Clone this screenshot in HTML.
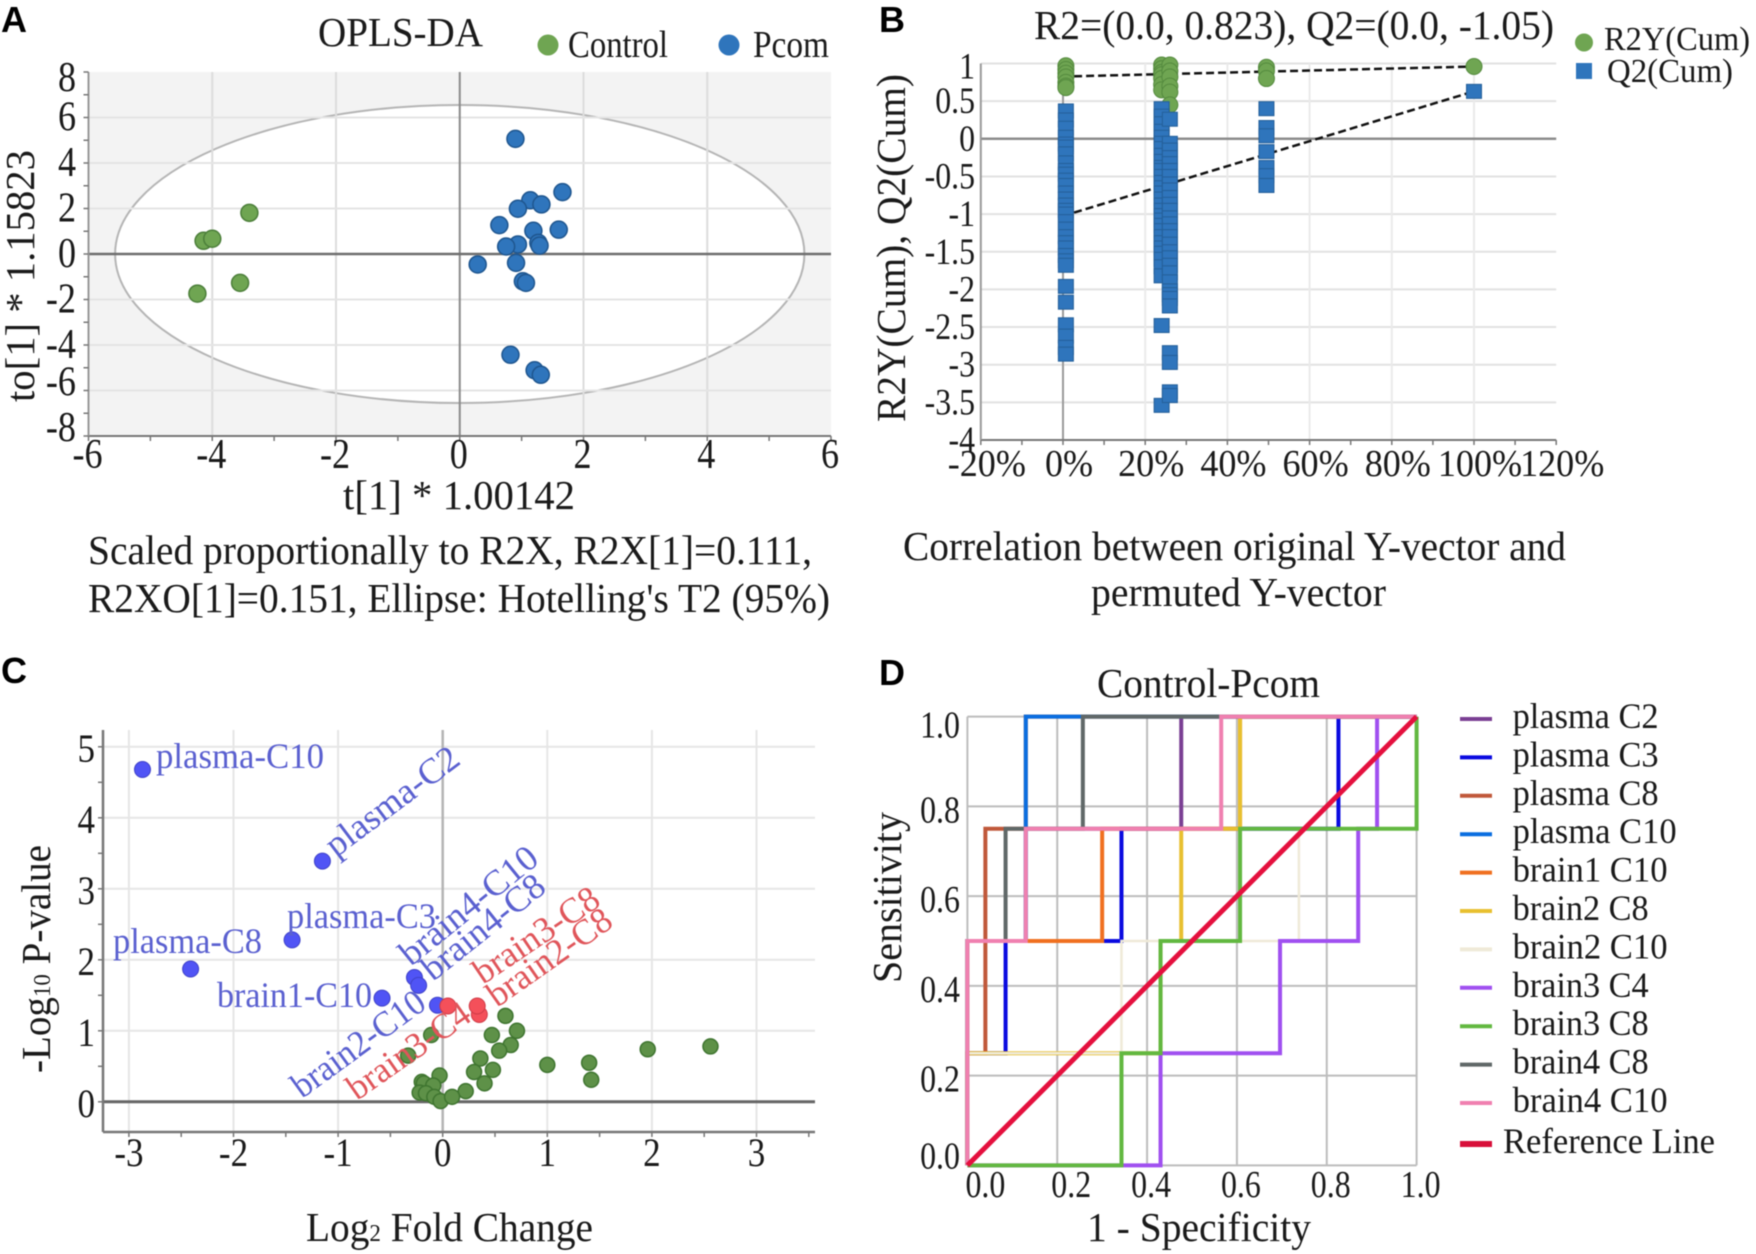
<!DOCTYPE html>
<html lang="en">
<head>
<meta charset="utf-8">
<title>OPLS-DA, permutation, volcano and ROC panels</title>
<style>
html,body{margin:0;padding:0;background:#fff;}
svg{display:block;filter:blur(0.5px);}
text{font-family:"Liberation Serif",serif;fill:#1a1a1a;}
.panel-letter{font-family:"Liberation Sans",sans-serif;font-weight:bold;font-size:36px;fill:#000;}
.t36{font-size:41px;}
.t34{font-size:38px;}
.t32{font-size:36px;}
.t30{font-size:34px;}
.vb{fill:#5a60d0;font-size:36px;}
.vr{fill:#e0555a;font-size:36px;}
</style>
</head>
<body>
<svg id="figure" xmlns="http://www.w3.org/2000/svg" width="1756" height="1254" viewBox="0 0 1756 1254">
  <rect x="0" y="0" width="1756" height="1254" fill="#fff"/>

  <g id="panel-a"></g>
  <g id="panel-b"></g>
  <g id="panel-c"></g>
  <g id="panel-d"></g>

  <!-- Panel A text -->
  <text class="panel-letter" x="1" y="32">A</text>
  <text class="t36" x="318" y="46" textLength="165" lengthAdjust="spacingAndGlyphs">OPLS-DA</text>
  <text class="t34" x="568" y="57" textLength="100" lengthAdjust="spacingAndGlyphs">Control</text>
  <text class="t34" x="753" y="57" textLength="76" lengthAdjust="spacingAndGlyphs">Pcom</text>
  <text class="t36" x="343" y="509" textLength="232" lengthAdjust="spacingAndGlyphs">t[1] * 1.00142</text>
  <text class="t36" x="34" y="402" transform="rotate(-90 34 402)" textLength="252" lengthAdjust="spacingAndGlyphs">to[1] * 1.15823</text>
  <text class="t36" x="88" y="564" textLength="724" lengthAdjust="spacingAndGlyphs">Scaled proportionally to R2X, R2X[1]=0.111,</text>
  <text class="t36" x="88" y="612" textLength="742" lengthAdjust="spacingAndGlyphs">R2XO[1]=0.151, Ellipse: Hotelling's T2 (95%)</text>

  <!-- Panel B text -->
  <text class="panel-letter" x="879" y="32">B</text>
  <text class="t36" x="1034" y="39" textLength="520" lengthAdjust="spacingAndGlyphs">R2=(0.0, 0.823), Q2=(0.0, -1.05)</text>
  <text class="t30" x="1604" y="50" textLength="146" lengthAdjust="spacingAndGlyphs">R2Y(Cum)</text>
  <text class="t30" x="1607" y="82" textLength="126" lengthAdjust="spacingAndGlyphs">Q2(Cum)</text>
  <text class="t36" x="905" y="422" transform="rotate(-90 905 422)" textLength="348" lengthAdjust="spacingAndGlyphs">R2Y(Cum), Q2(Cum)</text>
  <text class="t36" x="903" y="560" textLength="663" lengthAdjust="spacingAndGlyphs">Correlation between original Y-vector and</text>
  <text class="t36" x="1091" y="606" textLength="295" lengthAdjust="spacingAndGlyphs">permuted Y-vector</text>

  <!-- Panel C text -->
  <text class="panel-letter" x="1" y="683">C</text>
  <text class="t36" x="306" y="1241" textLength="287" lengthAdjust="spacingAndGlyphs">Log<tspan font-size="24">2</tspan> Fold Change</text>
  <text class="t36" x="50" y="1073" transform="rotate(-90 50 1073)" textLength="228" lengthAdjust="spacingAndGlyphs">-Log<tspan font-size="24">10</tspan> P-value</text>
  <g id="panel-c-labels">
    <text class="vb" x="156" y="768" textLength="168" lengthAdjust="spacingAndGlyphs">plasma-C10</text>
    <text class="vb" x="336" y="858" transform="rotate(-37 336 858)" textLength="158" lengthAdjust="spacingAndGlyphs">plasma-C2</text>
    <text class="vb" x="287" y="928" textLength="149" lengthAdjust="spacingAndGlyphs">plasma-C3</text>
    <text class="vb" x="113" y="953" textLength="149" lengthAdjust="spacingAndGlyphs">plasma-C8</text>
    <text class="vb" x="217" y="1007" textLength="155" lengthAdjust="spacingAndGlyphs">brain1-C10</text>
    <text class="vb" x="302" y="1099" transform="rotate(-36 302 1099)" textLength="156" lengthAdjust="spacingAndGlyphs">brain2-C10</text>
    <text class="vr" x="357" y="1101" transform="rotate(-35 357 1101)" textLength="142" lengthAdjust="spacingAndGlyphs">brain3-C4</text>
    <text class="vb" x="411" y="967" transform="rotate(-39 411 967)" textLength="167" lengthAdjust="spacingAndGlyphs">brain4-C10</text>
    <text class="vb" x="433" y="982" transform="rotate(-38.6 433 982)" textLength="147" lengthAdjust="spacingAndGlyphs">brain4-C8</text>
    <text class="vr" x="483" y="985" transform="rotate(-34 483 985)" textLength="144" lengthAdjust="spacingAndGlyphs">brain3-C8</text>
    <text class="vr" x="497" y="1008" transform="rotate(-35 497 1008)" textLength="144" lengthAdjust="spacingAndGlyphs">brain2-C8</text>
  </g>

  <!-- Panel D text -->
  <text class="panel-letter" x="879" y="685">D</text>
  <text class="t36" x="1097" y="697" textLength="223" lengthAdjust="spacingAndGlyphs">Control-Pcom</text>
  <text class="t36" x="1087" y="1241" textLength="224" lengthAdjust="spacingAndGlyphs">1 - Specificity</text>
  <text class="t36" x="901" y="983" transform="rotate(-90 901 983)" textLength="171" lengthAdjust="spacingAndGlyphs">Sensitivity</text>
</svg>

<script>
/* ---------- Panel A data ---------- */
const aXTicks = [-6, -4, -2, 0, 2, 4, 6];
const aYTicks = [8, 6, 4, 2, 0, -2, -4, -6, -8];
const controlT = [-3.40, -4.14, -4.00, -3.55, -4.24];
const controlTo = [1.81, 0.58, 0.67, -1.27, -1.74];
const pcomT = [0.90, 1.66, 1.14, 1.32, 0.94, 0.64, 1.19, 1.60, 0.94, 0.75, 1.27, 1.29, 0.29, 0.91, 1.02, 1.07, 0.82, 1.21, 1.31];
const pcomTo = [5.06, 2.72, 2.36, 2.18, 1.99, 1.27, 1.02, 1.07, 0.42, 0.33, 0.49, 0.37, -0.46, -0.39, -1.20, -1.27, -4.43, -5.11, -5.31];
const ellipseSemiT = 5.57;
const ellipseSemiTo = 6.55;

/* ---------- Panel B data ---------- */
const bXTicks = [-20, 0, 20, 40, 60, 80, 100, 120];
const bYTicks = [1, 0.5, 0, -0.5, -1, -1.5, -2, -2.5, -3, -3.5, -4];
const q2Col0 = [0.37, 0.25, 0.14, 0.02, -0.07, -0.11, -0.2, -0.32, -0.42, -0.47, -0.55, -0.62, -0.72, -0.8, -0.88, -0.95, -1.0, -1.1, -1.2, -1.3, -1.38, -1.45, -1.55, -1.62, -1.68, -1.96, -2.17, -2.47, -2.62, -2.77, -2.86];
const q2Col24 = [0.4, 0.3, 0.2, 0.1, 0.02, -0.06, -0.13, -0.22, -0.3, -0.38, -0.42, -0.5, -0.58, -0.65, -0.72, -0.8, -0.88, -0.95, -1.02, -1.08, -1.15, -1.22, -1.3, -1.38, -1.45, -1.52, -1.6, -1.7, -1.82, -2.48, -3.54];
const q2Col26 = [0.26, -0.06, -0.15, -0.25, -0.33, -0.42, -0.5, -0.6, -0.68, -0.78, -0.87, -0.95, -1.05, -1.13, -1.22, -1.3, -1.4, -1.5, -1.58, -1.68, -1.78, -1.9, -2.02, -2.07, -2.12, -2.22, -2.84, -2.97, -3.36, -3.41];
const q2Col50 = [0.4, 0.15, 0.04, -0.17, -0.38, -0.49, -0.62];
const q2Col100 = [0.63];
const r2Col0 = [0.97, 0.92, 0.87, 0.82, 0.75, 0.70, 0.68];
const r2Col24 = [0.98, 0.93, 0.88, 0.85, 0.8, 0.72, 0.65];
const r2Col26 = [0.98, 0.9, 0.82, 0.7, 0.62, 0.45];
const r2Col50 = [0.95, 0.9, 0.8];
const r2Col100 = [0.96];
const permLevels = [0.7, 24, 26, 49.5, 100];
const r2FitX = [2.7, 100];
const r2FitY = [0.83, 0.96];
const q2FitX = [2.7, 100];
const q2FitY = [-0.98, 0.63];

/* ---------- Panel C data ---------- */
const cXTicks = [-3, -2, -1, 0, 1, 2, 3];
const cYTicks = [5, 4, 3, 2, 1, 0];
const upFc = [-2.87, -1.15, -1.44, -2.41, -0.58, -0.27, -0.23, -0.05];
const upP = [4.68, 3.39, 2.28, 1.87, 1.46, 1.75, 1.64, 1.36];
const downFc = [0.05, 0.33, 0.35];
const downP = [1.35, 1.35, 1.23];
const nsFc = [0.60, 0.71, 0.47, -0.11, 0.65, 0.54, -0.33, 0.36, 0.48, 0.30, -0.03, 0.40, -0.20, -0.18, 0.22, -0.09, -0.22, -0.16, -0.08, -0.02, 0.09, 1.0, 1.40, 1.42, 1.96, 2.56];
const nsP = [1.21, 1.0, 0.94, 0.94, 0.80, 0.72, 0.65, 0.61, 0.45, 0.42, 0.37, 0.26, 0.28, 0.26, 0.15, 0.23, 0.13, 0.12, 0.07, 0.01, 0.07, 0.52, 0.55, 0.31, 0.74, 0.78];

/* ---------- Panel D data ---------- */
const dTicks = [0, 0.2, 0.4, 0.6, 0.8, 1];
const rocNames = ['plasma C2', 'plasma C3', 'plasma C8', 'plasma C10', 'brain1 C10', 'brain2 C8', 'brain2 C10', 'brain3 C4', 'brain3 C8', 'brain4 C8', 'brain4 C10'];
const rocColors = ['#7a3f93', '#0a0ae0', '#c0583a', '#0a6ee0', '#f07020', '#e8c030', '#efead8', '#a050f0', '#62b840', '#606868', '#f080b0'];
const fprPlasmaC2 = [0, 0, 0.13, 0.13, 0.476, 0.476, 1];
const tprPlasmaC2 = [0, 0.5, 0.5, 0.75, 0.75, 1, 1];
const fprPlasmaC3 = [0, 0, 0.085, 0.085, 0.343, 0.343, 0.826, 0.826, 1];
const tprPlasmaC3 = [0, 0.25, 0.25, 0.5, 0.5, 0.75, 0.75, 1, 1];
const fprPlasmaC8 = [0, 0, 0.04, 0.04, 0.13, 0.13, 1];
const tprPlasmaC8 = [0, 0.25, 0.25, 0.75, 0.75, 1, 1];
const fprPlasmaC10 = [0, 0, 0.13, 0.13, 1];
const tprPlasmaC10 = [0, 0.5, 0.5, 1, 1];
const fprBrain1C10 = [0, 0, 0.3, 0.3, 0.607, 0.607, 1];
const tprBrain1C10 = [0, 0.5, 0.5, 0.75, 0.75, 1, 1];
const fprBrain2C8 = [0, 0, 0.43, 0.43, 0.476, 0.476, 0.607, 0.607, 1];
const tprBrain2C8 = [0, 0.25, 0.25, 0.5, 0.5, 0.75, 0.75, 1, 1];
const fprBrain2C10 = [0, 0, 0.343, 0.343, 0.738, 0.738, 1, 1];
const tprBrain2C10 = [0, 0.25, 0.25, 0.5, 0.5, 0.75, 0.75, 1];
const fprBrain3C4 = [0, 0.43, 0.43, 0.696, 0.696, 0.87, 0.87, 0.912, 0.912, 1];
const tprBrain3C4 = [0, 0, 0.25, 0.25, 0.5, 0.5, 0.75, 0.75, 1, 1];
const fprBrain3C8 = [0, 0.343, 0.343, 0.43, 0.43, 0.607, 0.607, 1, 1];
const tprBrain3C8 = [0, 0, 0.25, 0.25, 0.5, 0.5, 0.75, 0.75, 1];
const fprBrain4C8 = [0, 0, 0.085, 0.085, 0.257, 0.257, 1];
const tprBrain4C8 = [0, 0.5, 0.5, 0.75, 0.75, 1, 1];
const fprBrain4C10 = [0, 0, 0.13, 0.13, 0.565, 0.565, 1];
const tprBrain4C10 = [0, 0.5, 0.5, 0.75, 0.75, 1, 1];
const rocFpr = [fprPlasmaC2, fprPlasmaC3, fprPlasmaC8, fprPlasmaC10, fprBrain1C10, fprBrain2C8, fprBrain2C10, fprBrain3C4, fprBrain3C8, fprBrain4C8, fprBrain4C10];
const rocTpr = [tprPlasmaC2, tprPlasmaC3, tprPlasmaC8, tprPlasmaC10, tprBrain1C10, tprBrain2C8, tprBrain2C10, tprBrain3C4, tprBrain3C8, tprBrain4C8, tprBrain4C10];

/* ---------- helpers ---------- */
const NS = 'http://www.w3.org/2000/svg';
function mk(parent, tag, attrs, content) {
  const el = document.createElementNS(NS, tag);
  for (const k in attrs) el.setAttribute(k, attrs[k]);
  if (content !== undefined) el.textContent = content;
  parent.appendChild(el);
  return el;
}
function linear(d0, d1, r0, r1) {
  return v => r0 + (v - d0) * (r1 - r0) / (d1 - d0);
}
function range(start, stop, step) {
  const out = [];
  for (let i = 0; start + i * step <= stop + 1e-9; i++) out.push(start + i * step);
  return out;
}
function line(parent, x1, y1, x2, y2, stroke, width) {
  return mk(parent, 'line', {x1, y1, x2, y2, stroke, 'stroke-width': width});
}
/* tall, horizontally condensed numerals, as in the reference */
function squeeze(el, size, factor) {
  let em = 0;
  for (const ch of el.textContent) em += ch === '-' ? 0.333 : ch === '.' ? 0.25 : ch === '%' ? 0.833 : 0.5;
  el.setAttribute('textLength', em * size * factor);
  el.setAttribute('lengthAdjust', 'spacingAndGlyphs');
}

/* ---------- Panel A ---------- */
(function () {
  const g = document.getElementById('panel-a');
  const x = linear(-6, 6, 88.5, 831);
  const y = linear(8, -8, 72, 436);
  const bg = mk(g, 'rect', {x: x(-6), y: y(8), width: x(6) - x(-6), height: y(-8) - y(8), fill: '#f3f3f3'});
  
  
  const ell = mk(g, 'ellipse', {cx: x(0), cy: y(0), rx: x(ellipseSemiT) - x(0), ry: y(0) - y(ellipseSemiTo), fill: '#fff', stroke: '#b5b5b5', 'stroke-width': 2});
  
  
  aXTicks.forEach(v => {
    if (v === 0 || Math.abs(v) === 6) return;
    const l = line(g, x(v), y(8), x(v), y(-8), '#dcdcdc', 2);
    
    
  });
  aYTicks.forEach(v => {
    if (v === 0 || Math.abs(v) === 8) return;
    const l = line(g, x(-6), y(v), x(6), y(v), '#e4e4e4', 2);
    
    
  });
  const z1 = line(g, x(0), y(8), x(0), y(-8), '#8a8a8a', 2);
  
  
  const z2 = line(g, x(-6), y(0), x(6), y(0), '#6e6e6e', 2.5);
  
  
  const ax = line(g, x(-6), y(-8), x(6), y(-8), '#777', 2);
  
  
  const ay = line(g, x(-6), y(8), x(-6), y(-8), '#999', 2);
  
  
  range(-6, 6, 1).forEach(v => {
    const t = line(g, x(v), y(-8), x(v), y(-8) + 5, '#777', 1.5);
    
    
  });
  range(-8, 8, 1).forEach(v => {
    const t = line(g, x(-6) - 5, y(v), x(-6), y(v), '#777', 1.5);
    
    
  });
  aXTicks.forEach(v => {
    const t = mk(g, 'text', {x: x(v) - 1, y: 468, 'text-anchor': 'middle', 'font-size': 42}, String(v));
    squeeze(t, 42, 0.86);
    
    
  });
  aYTicks.forEach(v => {
    const nudge = v === 8 ? 6 : (v <= -6 ? -8 : 0);
    const t = mk(g, 'text', {x: 76, y: y(v) + nudge + 13, 'text-anchor': 'end', 'font-size': 42}, String(v));
    squeeze(t, 42, 0.86);
    
    
  });
  controlT.forEach((v, i) => {
    const c = mk(g, 'circle', {cx: x(v), cy: y(controlTo[i]), r: 8.5, fill: '#6fa552', stroke: '#4c7f3a', 'stroke-width': 1.5});
    
    
  });
  pcomT.forEach((v, i) => {
    const c = mk(g, 'circle', {cx: x(v), cy: y(pcomTo[i]), r: 8.5, fill: '#2f75bc', stroke: '#1f568f', 'stroke-width': 1.5});
    
    
  });
  const lc = mk(g, 'circle', {cx: 548, cy: 45, r: 10.5, fill: '#6fa552'});
  
  
  const lp = mk(g, 'circle', {cx: 729, cy: 45, r: 10.5, fill: '#2f75bc'});
  
  
})();

/* ---------- Panel B ---------- */
(function () {
  const g = document.getElementById('panel-b');
  const x = linear(0, 100, 1063, 1474);
  const y = linear(0, -4, 138.8, 440);
  bYTicks.forEach(v => {
    if (v === 0 || v === -4) return;
    const l = line(g, x(-20), y(v), x(120), y(v), '#e2e2e2', 2);
    
    
  });
  bXTicks.forEach(v => {
    if (v === 0 || v === -20 || v === 120) return;
    const l = line(g, x(v), y(1), x(v), y(-4), '#eaeaea', 2);
    
    
  });
  const z1 = line(g, x(0), y(1), x(0), y(-4), '#9a9a9a', 2);
  
  
  const z2 = line(g, x(-20), y(0), x(120), y(0), '#8c8c8c', 2.5);
  
  
  const ax = line(g, x(-20), y(-4), x(120), y(-4), '#777', 2);
  
  
  const ay = line(g, x(-20), y(1), x(-20), y(-4), '#999', 2);
  
  
  range(-20, 120, 10).forEach(v => {
    const t = line(g, x(v), y(-4), x(v), y(-4) + 5, '#777', 1.5);
    
    
  });
  bXTicks.forEach(v => {
    const t = mk(g, 'text', {x: x(v) + 6, y: 476, 'text-anchor': 'middle', 'font-size': 38}, v + '%');
    squeeze(t, 38, 0.95);
    
    
  });
  bYTicks.forEach(v => {
    const nudge = v === 1 ? 3 : 0;
    const t = mk(g, 'text', {x: 975, y: y(v) + nudge + 12, 'text-anchor': 'end', 'font-size': 37}, String(v));
    squeeze(t, 37, 0.86);
    
    
  });
  const r2Fit = line(g, x(r2FitX[0]), y(r2FitY[0]), x(r2FitX[1]), y(r2FitY[1]), '#111', 2.5);
  r2Fit.setAttribute('stroke-dasharray', '8 4');
  
  
  const q2Fit = line(g, x(q2FitX[0]), y(q2FitY[0]), x(q2FitX[1]), y(q2FitY[1]), '#111', 2.5);
  q2Fit.setAttribute('stroke-dasharray', '8 4');
  
  
  const r2Cols = [r2Col0, r2Col24, r2Col26, r2Col50, r2Col100];
  r2Cols.forEach((col, ci) => {
    col.forEach(v => {
      const c = mk(g, 'circle', {cx: x(permLevels[ci]), cy: y(v), r: 8, fill: '#6fa552', stroke: '#548a3e', 'stroke-width': 1});
      
      
    });
  });
  const q2Cols = [q2Col0, q2Col24, q2Col26, q2Col50, q2Col100];
  q2Cols.forEach((col, ci) => {
    col.forEach(v => {
      const s = mk(g, 'rect', {x: x(permLevels[ci]) - 7.5, y: y(v) - 7, width: 15, height: 14, fill: '#2f75bc', stroke: '#245f99', 'stroke-width': 1});
      
      
    });
  });
  const lc = mk(g, 'circle', {cx: 1584, cy: 42.5, r: 9, fill: '#6fa552'});
  
  
  const ls = mk(g, 'rect', {x: 1576, y: 63, width: 16, height: 16, fill: '#2f75bc'});
  
  
})();

/* ---------- Panel C ---------- */
(function () {
  const g = document.getElementById('panel-c');
  const x = linear(0, 1, 442.7, 547.3);
  const y = linear(0, 1, 1101.8, 1030.8);
  const left = 103, right = 815, top = 730, bottom = 1132;
  cYTicks.forEach(v => {
    if (v === 0) return;
    const l = line(g, left, y(v), right, y(v), '#e6e6e6', 2);
    
    
  });
  cXTicks.forEach(v => {
    if (v === 0) return;
    const l = line(g, x(v), top, x(v), bottom, '#e6e6e6', 2);
    
    
  });
  const z1 = line(g, x(0), top, x(0), bottom, '#b4b4b4', 2.5);
  
  
  const z2 = line(g, left, y(0), right, y(0), '#666', 3);
  
  
  const ax = line(g, left, bottom, right, bottom, '#777', 2.5);
  
  
  const ay = line(g, left, top, left, bottom, '#777', 2.5);
  
  
  range(-3, 3.5, 0.5).forEach(v => {
    const t = line(g, x(v), bottom, x(v), bottom + 5, '#777', 1.5);
    
    
  });
  range(0, 5, 0.5).forEach(v => {
    const t = line(g, left - 5, y(v), left, y(v), '#777', 1.5);
    
    
  });
  cXTicks.forEach(v => {
    const t = mk(g, 'text', {x: x(v), y: 1166, 'text-anchor': 'middle', 'font-size': 40}, String(v));
    squeeze(t, 40, 0.875);
    
    
  });
  cYTicks.forEach(v => {
    const t = mk(g, 'text', {x: 95, y: y(v) + 15, 'text-anchor': 'end', 'font-size': 40}, String(v));
    squeeze(t, 40, 0.875);
    
    
  });
  nsFc.forEach((v, i) => {
    const c = mk(g, 'circle', {cx: x(v), cy: y(nsP[i]), r: 7.5, fill: '#5e9148', stroke: '#3f7530', 'stroke-width': 1.5});
    
    
  });
  upFc.forEach((v, i) => {
    const c = mk(g, 'circle', {cx: x(v), cy: y(upP[i]), r: 8, fill: '#5054f5', stroke: '#3f42c8', 'stroke-width': 1});
    
    
  });
  downFc.slice().reverse().forEach((v, i) => {
    const c = mk(g, 'circle', {cx: x(v), cy: y(downP[downP.length - 1 - i]), r: 8, fill: '#f4505a', stroke: '#d03c48', 'stroke-width': 1});
    
    
  });
})();

/* ---------- Panel D ---------- */
(function () {
  const g = document.getElementById('panel-d');
  const x = linear(0, 1, 967.4, 1416.6);
  const y = linear(0, 1, 1165.4, 716.6);
  dTicks.forEach(v => {
    const h = line(g, x(0), y(v), x(1), y(v), '#bdbdbd', 2);
    
    
    const w = line(g, x(v), y(0), x(v), y(1), '#bdbdbd', 2);
    
    
  });
  dTicks.forEach(v => {
    const nudge = v === 0 ? 18 : (v === 0.2 ? 14 : 4);
    const t = mk(g, 'text', {x: x(v) + nudge, y: 1197, 'text-anchor': 'middle', 'font-size': 38}, v.toFixed(1));
    squeeze(t, 38, 0.84);
    
    
  });
  dTicks.forEach(v => {
    const nudge = v === 0 ? -9 : (v === 1 ? 9 : 4);
    const t = mk(g, 'text', {x: 960, y: y(v) + nudge + 12, 'text-anchor': 'end', 'font-size': 38}, v.toFixed(1));
    squeeze(t, 38, 0.84);
    
    
  });
  rocNames.forEach((name, i) => {
    const pts = rocFpr[i].map((f, j) => x(f) + ',' + y(rocTpr[i][j])).join(' ');
    const pale = name === 'brain2 C10';
    const p = mk(g, 'polyline', {points: pts, fill: 'none', stroke: rocColors[i], 'stroke-width': pale ? 2.5 : 4, 'stroke-linejoin': 'miter'});
    
    
  });
  const refLine = line(g, x(0), y(0), x(1), y(1), '#e4103e', 5);
  
  

  const legendY = i => 719 + i * 38.4;
  const legendWidths = [146, 146, 146, 164, 155, 136, 155, 136, 136, 136, 155];
  rocNames.forEach((name, i) => {
    const k = line(g, 1460, legendY(i), 1492, legendY(i), rocColors[i], 4);
    
    
    const t = mk(g, 'text', {x: 1512.6, y: legendY(i) + 9, 'font-size': 36, textLength: legendWidths[i], lengthAdjust: 'spacingAndGlyphs'}, name);
    
    
  });
  const rk = line(g, 1460, 1144, 1492, 1144, '#d8103a', 6);
  
  
  const rt = mk(g, 'text', {x: 1503, y: 1153, 'font-size': 36, textLength: 212, lengthAdjust: 'spacingAndGlyphs'}, 'Reference Line');
  
  
})();
</script>
</body>
</html>
